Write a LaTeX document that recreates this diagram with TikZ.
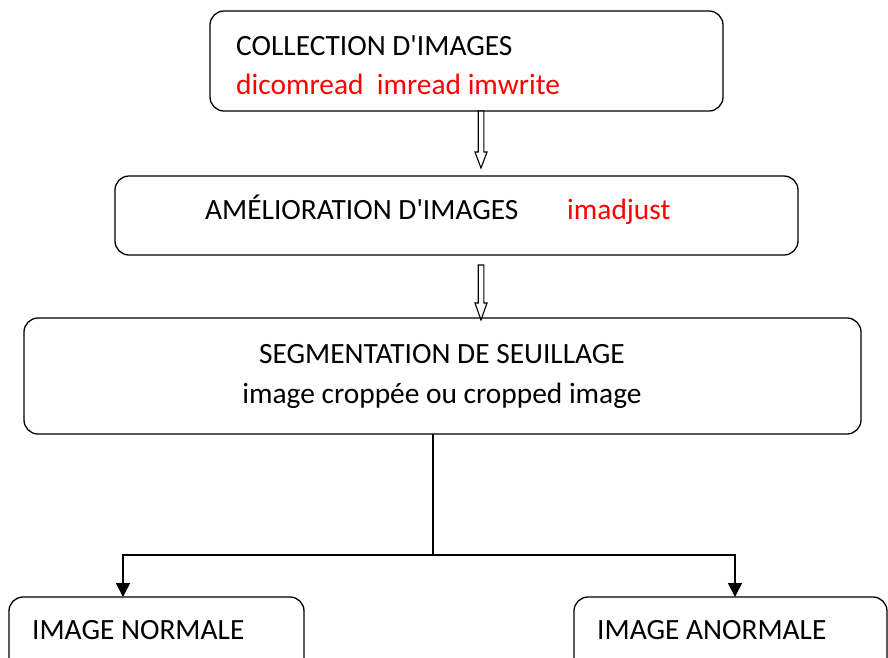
\documentclass[tikz,border=0pt]{standalone}
\usepackage{fontspec}
\setmainfont{Carlito}
\usetikzlibrary{arrows.meta,calc}
\definecolor{redtxt}{RGB}{255,0,0}
\tikzset{
  box/.style={draw, line width=1.3pt, rounded corners=14pt},
  lbl/.style={font=\fontsize{29.4}{34}\selectfont, inner sep=0pt, anchor=base west},
  hollow/.style={draw, line width=1.1pt, fill=white, line join=miter},
  conn/.style={draw, line width=1.6pt},
  tipped/.style={conn, -{Triangle[length=14pt,width=14pt]}}
}
\begin{document}
\begin{tikzpicture}[x=1pt,y=-1pt]
\useasboundingbox (0,0) rectangle (888,657);
\clip (0,0) rectangle (888,657);
% boxes
\draw[box] (210,11) rectangle (723,111);
\coordinate (b1s) at (481,111);
\draw[box] (115,176) rectangle (798,255);
\coordinate (b2n) at (481,176);
\coordinate (b2s) at (481,265);
\draw[box] (24,318) rectangle (861,434);
\coordinate (b3n) at (481,320);
\coordinate (b3s) at (433,434);
\draw[box] (9,597) rectangle (304,700);
\draw[box] (574,597) rectangle (887,700);
\coordinate (b4n) at (123,597);
\coordinate (b5n) at (735,597);
% texts
\node[lbl] (t1) at (236,55) {COLLECTION D\textquotesingle IMAGES};
\node[lbl, text=redtxt] (t1r) at (236,94) {dicomread\ \ imread imwrite};
\node[lbl] (t2) at (205,219) {AMÉLIORATION D\textquotesingle IMAGES};
\node[lbl, text=redtxt] (t2r) at (567,219) {imadjust};
\node[lbl, anchor=base] (t3) at (442,363) {SEGMENTATION DE SEUILLAGE};
\node[lbl, anchor=base] (t3b) at (442,403) {image croppée ou cropped image};
\node[lbl] (t4) at (32,639) {IMAGE NORMALE};
\node[lbl] (t5) at (597,639) {IMAGE ANORMALE};
% hollow arrows
\draw[hollow] ($(b1s)+(-2.8,0)$) -- ($(b1s)+(-2.8,41)$) -- ($(b1s)+(-6,41)$) -- ($(b1s)+(0,57)$)
  -- ($(b1s)+(6,41)$) -- ($(b1s)+(2.8,41)$) -- ($(b1s)+(2.8,0)$) -- cycle;
\draw[hollow] ($(b2s)+(-2.8,0)$) -- ($(b2s)+(-2.8,38)$) -- ($(b2s)+(-6,38)$) -- ($(b3n)+(0,0)$)
  -- ($(b2s)+(6,38)$) -- ($(b2s)+(2.8,38)$) -- ($(b2s)+(2.8,0)$) -- cycle;
% tree connector
\coordinate (j) at (433,555);
\draw[conn] (b3s) -- (j);
\draw[tipped] (j) -| (b4n);
\draw[tipped] (j) -| (b5n);
\end{tikzpicture}
\end{document}
